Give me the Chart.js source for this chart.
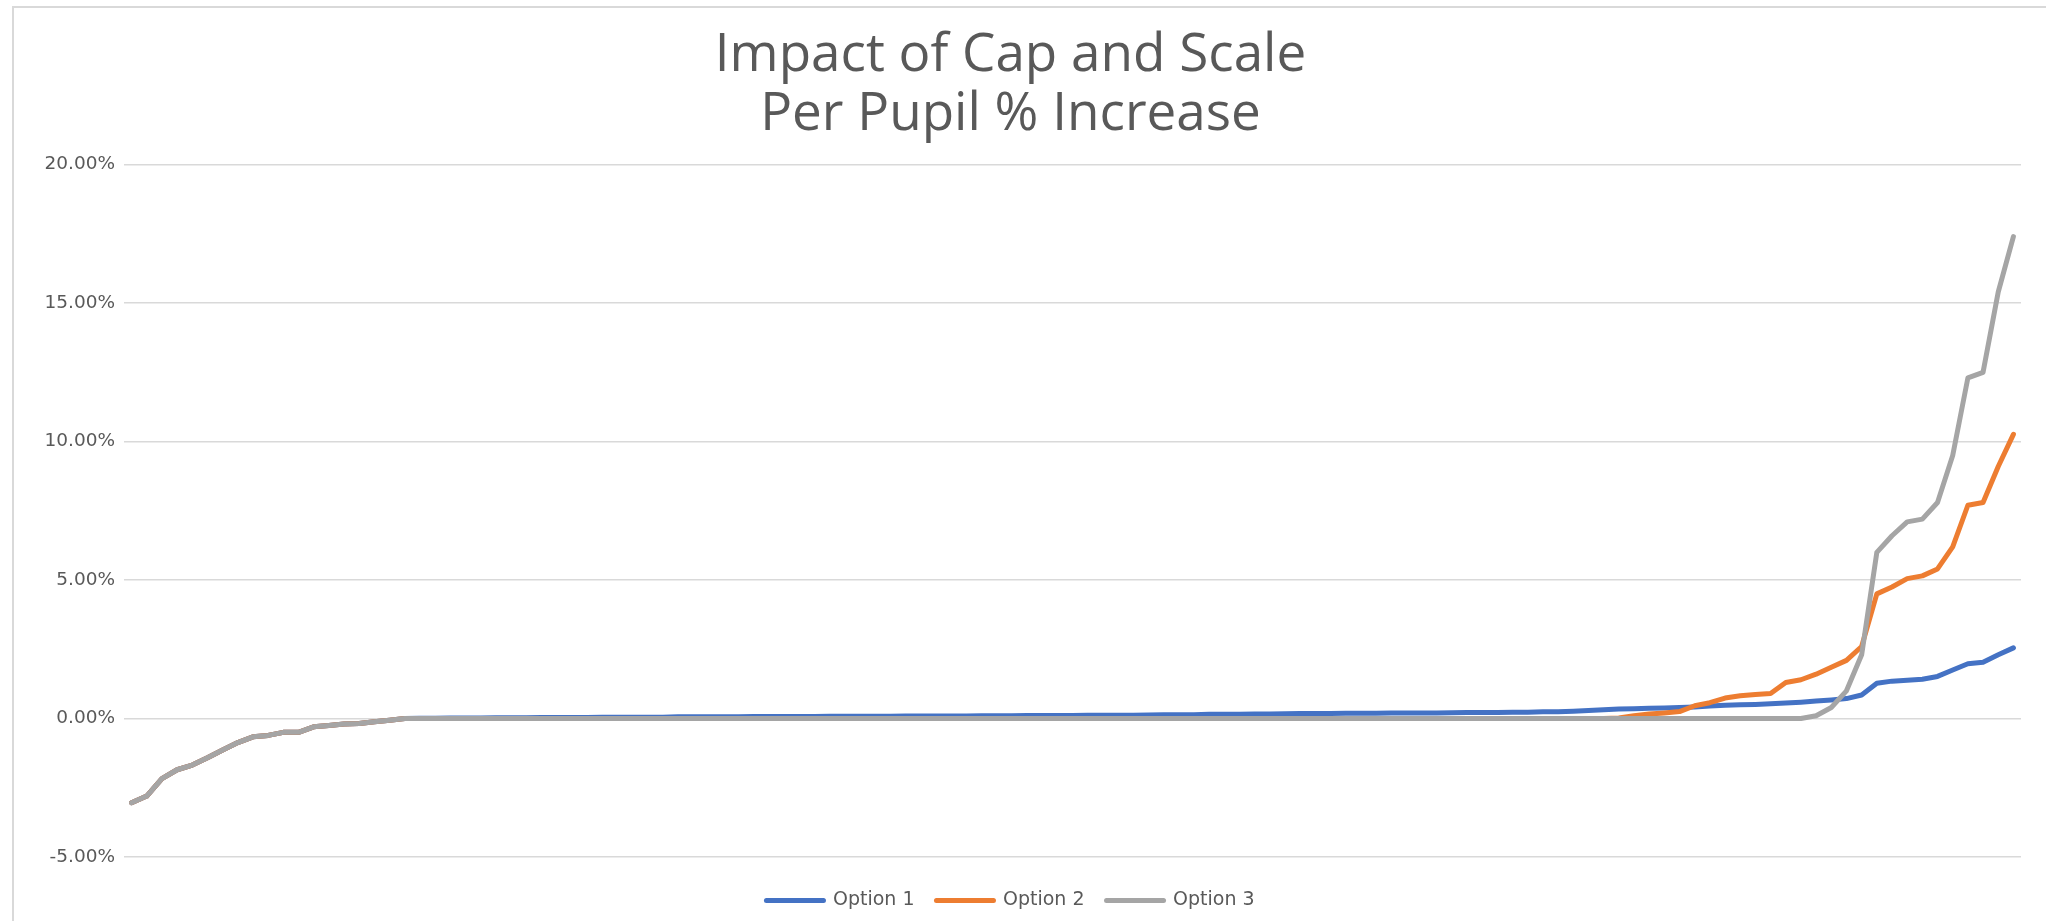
<!DOCTYPE html>
<html><head><meta charset="utf-8">
<script src="https://cdn.jsdelivr.net/npm/chart.js@4"></script>
<style>
html,body{margin:0;padding:0;background:#fff;overflow:hidden;}
#wrap{position:relative;width:2046px;height:921px;overflow:hidden;background:#fff;}
#frame{position:absolute;left:12px;top:6px;right:-10px;bottom:-10px;border-left:2px solid #d9d9d9;border-top:2px solid #d9d9d9;pointer-events:none;}
canvas{position:absolute;left:0;top:0;}
</style></head><body>
<div id="wrap"><canvas id="c" width="2046" height="921"></canvas><div id="frame"></div></div>
<script>
const titleLines = ['Impact of Cap and Scale', 'Per Pupil % Increase'];
const seriesNames = ['Option 1', 'Option 2', 'Option 3'];
const seriesColors = ['#4472C4', '#ED7D31', '#A5A5A5'];
const yTickValues = [-5, 0, 5, 10, 15, 20];

const option1 = [
 -3.04,-2.80,-2.17,-1.85,-1.68,-1.42,-1.14,-0.87,-0.66,-0.61,
 -0.50,-0.50,-0.30,-0.25,-0.20,-0.18,-0.12,-0.06,0,0.01,
 0.01,0.02,0.02,0.02,0.03,0.03,0.03,0.04,0.04,0.04,
 0.04,0.05,0.05,0.05,0.05,0.05,0.06,0.06,0.06,0.06,
 0.06,0.07,0.07,0.07,0.07,0.07,0.08,0.08,0.08,0.08,
 0.08,0.09,0.09,0.09,0.09,0.09,0.10,0.10,0.10,0.11,
 0.11,0.11,0.11,0.12,0.12,0.12,0.12,0.13,0.14,0.14,
 0.14,0.15,0.15,0.15,0.16,0.16,0.17,0.18,0.18,0.18,
 0.19,0.19,0.19,0.20,0.20,0.20,0.20,0.21,0.22,0.22,
 0.22,0.23,0.23,0.24,0.24,0.26,0.29,0.32,0.34,0.35,
 0.37,0.38,0.40,0.42,0.45,0.48,0.50,0.51,0.53,0.56,
 0.59,0.63,0.67,0.72,0.85,1.27,1.35,1.38,1.42,1.52,
 1.75,1.98,2.03,2.30,2.55
];
const option2 = [
 -3.04,-2.80,-2.17,-1.85,-1.68,-1.42,-1.14,-0.87,-0.66,-0.61,
 -0.50,-0.50,-0.30,-0.25,-0.20,-0.18,-0.12,-0.06,0,0,
 0,0,0,0,0,0,0,0,0,0,
 0,0,0,0,0,0,0,0,0,0,
 0,0,0,0,0,0,0,0,0,0,
 0,0,0,0,0,0,0,0,0,0,
 0,0,0,0,0,0,0,0,0,0,
 0,0,0,0,0,0,0,0,0,0,
 0,0,0,0,0,0,0,0,0,0,
 0,0,0,0,0,0,0,0,0.02,0.10,
 0.16,0.20,0.25,0.46,0.57,0.74,0.82,0.87,0.90,1.30,
 1.40,1.60,1.85,2.10,2.60,4.50,4.75,5.05,5.15,5.40,
 6.20,7.70,7.80,9.10,10.26
];
const option3 = [
 -3.04,-2.80,-2.17,-1.85,-1.68,-1.42,-1.14,-0.87,-0.66,-0.61,
 -0.50,-0.50,-0.30,-0.25,-0.20,-0.18,-0.12,-0.06,0,0,
 0,0,0,0,0,0,0,0,0,0,
 0,0,0,0,0,0,0,0,0,0,
 0,0,0,0,0,0,0,0,0,0,
 0,0,0,0,0,0,0,0,0,0,
 0,0,0,0,0,0,0,0,0,0,
 0,0,0,0,0,0,0,0,0,0,
 0,0,0,0,0,0,0,0,0,0,
 0,0,0,0,0,0,0,0,0,0,
 0,0,0,0,0,0,0,0,0,0,
 0,0.10,0.40,1.00,2.30,6.00,6.60,7.10,7.20,7.80,
 9.50,12.30,12.50,15.40,17.40
];
const categories = option1.map((_, i) => String(i + 1));

const seriesData = [option1, option2, option3];
const datasets = seriesData.map((d, i) => ({
  label: seriesNames[i],
  data: d,
  borderColor: seriesColors[i],
  backgroundColor: seriesColors[i],
  borderWidth: 5,
  pointRadius: 0,
  pointHoverRadius: 0,
  tension: 0,
  borderCapStyle: 'round',
  borderJoinStyle: 'round',
  order: 3 - i
}));

new Chart(document.getElementById('c'), {
  type: 'line',
  data: { labels: categories, datasets },
  options: {
    responsive: false,
    animation: false,
    devicePixelRatio: 1,
    layout: { padding: { left: 0, right: 25, top: 0, bottom: 1 } },
    scales: {
      x: { display: false, offset: true },
      y: {
        min: yTickValues[0], max: yTickValues[yTickValues.length - 1],
        afterBuildTicks: s => { s.ticks = yTickValues.map(v => ({ value: v })); },
        ticks: { padding: 9, color: '#595959', font: { family: 'DejaVu Sans', size: 18.5 },
                 callback: v => Number(v).toFixed(2) + '%' },
        grid: { color: '#d9d9d9', lineWidth: 1.5, drawTicks: false },
        border: { display: false },
        afterFit: s => { s.width = 124; }
      }
    },
    plugins: {
      title: {
        display: true, text: titleLines, color: '#595959',
        font: { family: 'Open Sans', size: 53, weight: 'normal', lineHeight: 1.1 },
        padding: { top: 27, bottom: 21 }
      },
      legend: {
        position: 'bottom',
        title: { display: true, text: '', font: { size: 1, lineHeight: 1 }, padding: { top: 11, bottom: 0 } },
        labels: {
          usePointStyle: true, pointStyleWidth: 57, boxHeight: 19, padding: 22,
          color: '#595959', font: { family: 'DejaVu Sans', size: 19 },
          generateLabels: chart => chart.data.datasets.map((ds, i) => ({
            text: ds.label, fillStyle: ds.borderColor, strokeStyle: ds.borderColor,
            lineWidth: 5, lineCap: 'round', pointStyle: 'line', hidden: false,
            datasetIndex: i, fontColor: '#595959'
          }))
        }
      },
      tooltip: { enabled: false }
    }
  }
});
</script>
</body></html>
